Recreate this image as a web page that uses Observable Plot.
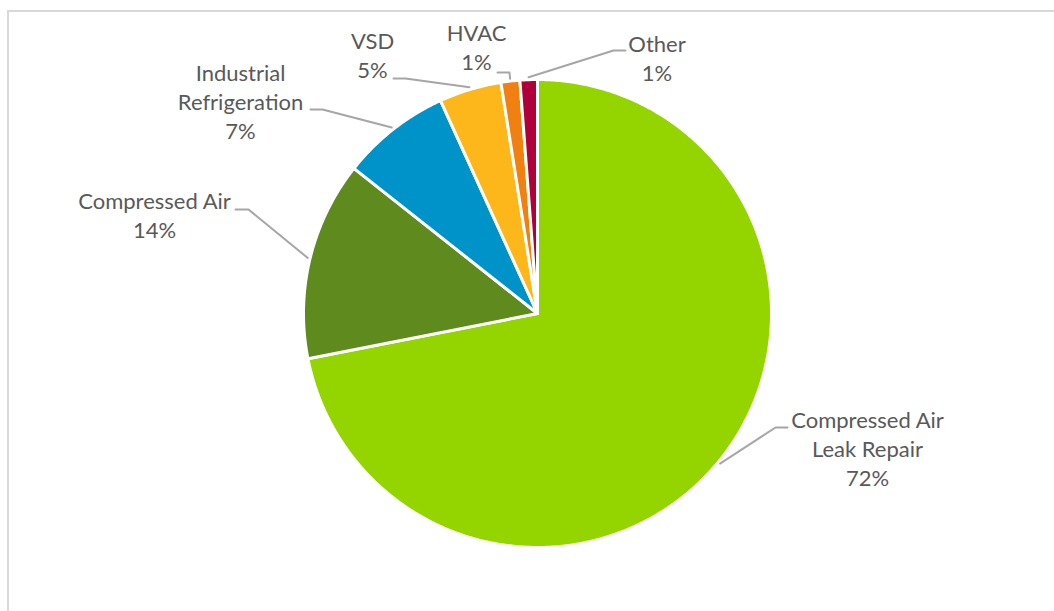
<!DOCTYPE html>
<html>
<head>
<meta charset="utf-8">
<script src="https://cdn.jsdelivr.net/npm/d3@7"></script>
<script src="https://cdn.jsdelivr.net/npm/@observablehq/plot@0.6"></script>
<style>
  html, body { margin: 0; padding: 0; background: #fff; }
  #wrap { position: relative; width: 1054px; height: 611px; overflow: hidden; }
  #frame { position: absolute; left: 7px; top: 10px; width: 1100px; height: 700px;
           border-left: 2px solid #d9d9d9; border-top: 2px solid #d9d9d9; }
  #chart { position: absolute; left: 0; top: 0; }
</style>
</head>
<body>
<div id="wrap"><div id="frame"></div><div id="chart"></div></div>
<script>
// ---- data ----
const categories = ["Compressed Air Leak Repair", "Compressed Air", "Industrial Refrigeration", "VSD", "HVAC", "Other"];
const values = [71.9, 13.75, 7.55, 4.3, 1.3, 1.2];
const labelNames = ["Compressed Air\nLeak Repair", "Compressed Air", "Industrial\nRefrigeration", "VSD", "HVAC", "Other"];
const percentLabels = ["72%", "14%", "7%", "5%", "1%", "1%"];
const colors = ["#94d500", "#5e8a1e", "#0093c9", "#fdb71a", "#f0800f", "#b0003b"];

// ---- layout (pixels relative to pie centre) ----
const W = 1054, H = 611, cx = 537, cy = 313, R = 234;
const labelCenter = [[330, 134], [-383, -99.5], [-297, -213], [-165, -259.5], [-61, -267.5], [119.5, -256.5]];
const leaderElbow = [[238, 114], [-289, -104], [-215, -204], [-132, -235], [-28, -241], [76, -263]];
const leaderAnchor = [[250, 114], [-302, -104], [-227, -204], [-144, -235], [-40, -241], [88, -263]];

const total = d3.sum(values);
let acc = 0;
const slices = categories.map((name, i) => {
  const a0 = acc / total * 2 * Math.PI;
  acc += values[i];
  const a1 = acc / total * 2 * Math.PI;
  return {name, i, a0, a1, mid: (a0 + a1) / 2};
});

// wedge polygons (unit radius, clockwise from top)
const wedgePts = [];
for (const s of slices) {
  wedgePts.push({name: s.name, color: colors[s.i], x: 0, y: 0});
  const n = Math.max(2, Math.ceil((s.a1 - s.a0) / (Math.PI / 360)));
  for (let k = 0; k <= n; k++) {
    const a = s.a0 + (s.a1 - s.a0) * k / n;
    wedgePts.push({name: s.name, color: colors[s.i], x: Math.sin(a), y: -Math.cos(a)});
  }
}

// leader lines
const leaderPts = [];
for (const s of slices) {
  leaderPts.push({name: s.name, x: Math.sin(s.mid) * 1.01, y: -Math.cos(s.mid) * 1.01});
  leaderPts.push({name: s.name, x: leaderElbow[s.i][0] / R, y: leaderElbow[s.i][1] / R});
  leaderPts.push({name: s.name, x: leaderAnchor[s.i][0] / R, y: leaderAnchor[s.i][1] / R});
}

const labels = slices.map(s => ({
  text: labelNames[s.i] + "\n" + percentLabels[s.i],
  x: labelCenter[s.i][0] / R,
  y: labelCenter[s.i][1] / R
}));

const fs = 22;
const chart = Plot.plot({
  width: W, height: H,
  margin: 0,
  style: {background: "transparent", fontFamily: "Lato, 'Open Sans', sans-serif"},
  x: {domain: [-cx / R, (W - cx) / R], range: [0, W], axis: null},
  y: {domain: [-cy / R, (H - cy) / R], range: [0, H], axis: null},
  marks: [
    Plot.line(wedgePts, {x: "x", y: "y", z: "name", fill: "color", stroke: "#ffffff", strokeWidth: 3, curve: "linear-closed", strokeLinejoin: "round"}),
    Plot.line(leaderPts, {x: "x", y: "y", z: "name", stroke: "#a6a6a6", strokeWidth: 2, curve: "linear"}),
    Plot.text(labels, {x: "x", y: "y", text: "text", fill: "#595959", fontSize: fs, lineHeight: 29 / fs, textAnchor: "middle", lineAnchor: "middle"})
  ]
});
document.getElementById("chart").appendChild(chart);
</script>
</body>
</html>
